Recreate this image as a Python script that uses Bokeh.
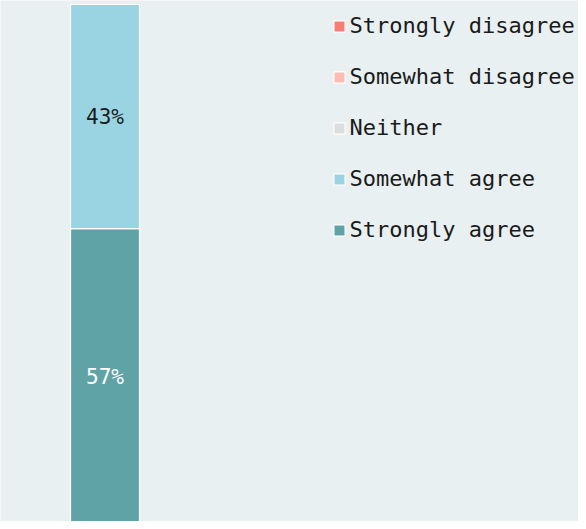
from bokeh.plotting import figure
from bokeh.models import Range1d, Legend, LegendItem, ColumnDataSource
from bokeh.core.properties import value
from bokeh.embed import file_html
from bokeh.resources import INLINE

# Data
categories = ["Response"]
stack_order = ["Strongly agree", "Somewhat agree", "Neither", "Somewhat disagree", "Strongly disagree"]
values = [57, 43, 0, 0, 0]
colors = ["#5fa3a7", "#9ad4e3", "#dcdddd", "#fdbcb4", "#f87e73"]
legend_order = ["Strongly disagree", "Somewhat disagree", "Neither", "Somewhat agree", "Strongly agree"]
label_colors = ["#ffffff", "#1a1a1a"]

BG = "#e8f0f1"
FONT = "DejaVu Sans Mono"

p = figure(width=578, height=521, output_backend="svg", toolbar_location=None,
           x_range=Range1d(-1.5145, 6.862), y_range=Range1d(0.77, 100.77),
           min_border=0, min_border_left=0, min_border_right=0,
           min_border_top=0, min_border_bottom=0)
p.background_fill_color = BG
p.border_fill_color = BG
p.outline_line_color = None
p.axis.visible = False
p.grid.visible = False

renderers = {}
bottom = 0
for name, v, c in zip(stack_order, values, colors):
    src = ColumnDataSource(dict(x=[0], top=[bottom + v], bottom=[bottom]))
    r = p.vbar(x="x", top="top", bottom="bottom", width=1, source=src,
               fill_color=c, line_color="white", line_width=1.2)
    renderers[name] = r
    bottom += v

# percent labels
lx, ly, lt, lc = [], [], [], []
cum = 0
for name, v in zip(stack_order, values):
    if v > 0:
        lx.append(0)
        ly.append(cum + v / 2)
        lt.append(f"{v}%")
        lc.append(label_colors[len(lt) - 1])
    cum += v
p.text(x=lx, y=ly, text=lt, text_color=lc, text_align="center", text_baseline="middle",
       text_font=value(FONT), text_font_size="21px")

items = [LegendItem(label=n, renderers=[renderers[n]]) for n in legend_order]
legend = Legend(items=items, location=(331.6, 279), orientation="vertical",
                glyph_width=14, glyph_height=14, label_standoff=4,
                label_text_font=FONT, label_text_font_size="22px", label_text_color="#1a1a1a",
                label_height=22, spacing=26, padding=0, margin=0,
                border_line_alpha=0, background_fill_alpha=0)
p.add_layout(legend, "center")

open("out.html", "w").write(file_html(p, INLINE))
